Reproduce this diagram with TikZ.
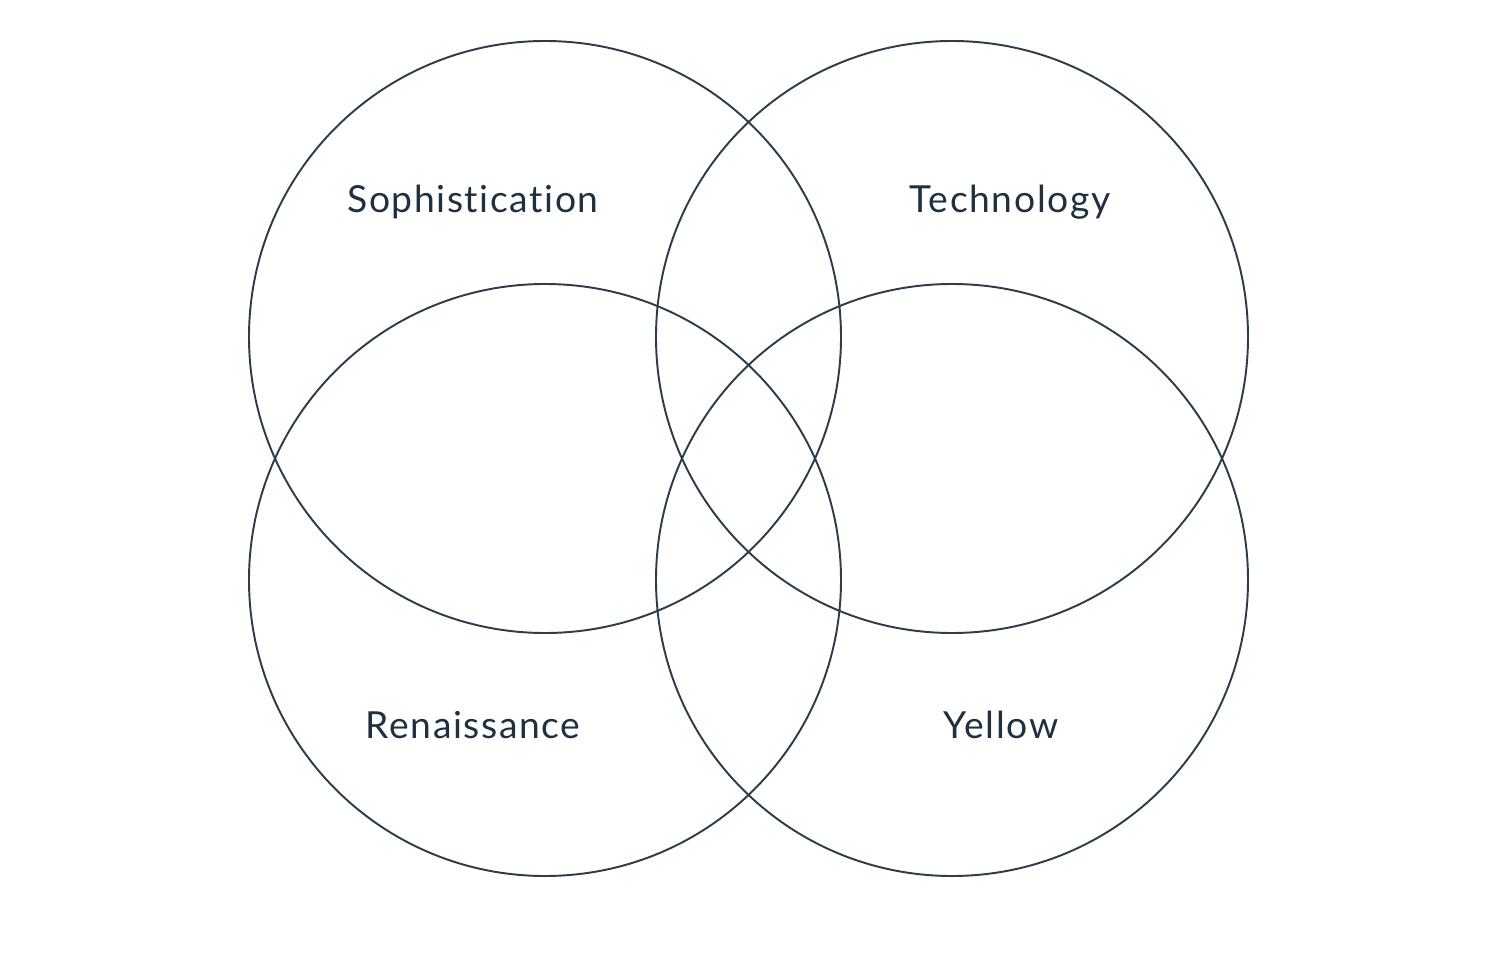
\documentclass[tikz,border=0pt]{standalone}
\usepackage{fontspec}
\setmainfont{Lato}[Ligatures=NoCommon,LetterSpace=4.3]
\definecolor{slate}{HTML}{2B3D4B}
\definecolor{ink}{HTML}{1F3140}
\begin{document}
\begin{tikzpicture}[
    ring/.style={draw=slate,line width=0.55pt},
    lbl/.style={anchor=base,text=ink,font=\fontsize{10.6pt}{12pt}\selectfont}]
    \useasboundingbox(0,0)rectangle(14.92,9.69);
    \coordinate(TL)at(5.45,6.32);
    \coordinate(TR)at(9.52,6.32);
    \coordinate(BL)at(5.45,3.89);
    \coordinate(BR)at(9.52,3.89);
    \draw[ring](TL)circle[radius=2.96];
    \draw[ring](TR)circle[radius=2.96];
    \draw[ring](BL)circle[radius=2.96];
    \draw[ring](BR)circle[radius=2.96];
    \node[lbl](soph)at(4.73,7.56){Sophistication};
    \node[lbl](tech)at(10.10,7.56){Technology};
    \node[lbl](ren)at(4.73,2.31){Renaissance};
    \node[lbl](yel)at(10.01,2.31){Yellow};
\end{tikzpicture}
\end{document}
